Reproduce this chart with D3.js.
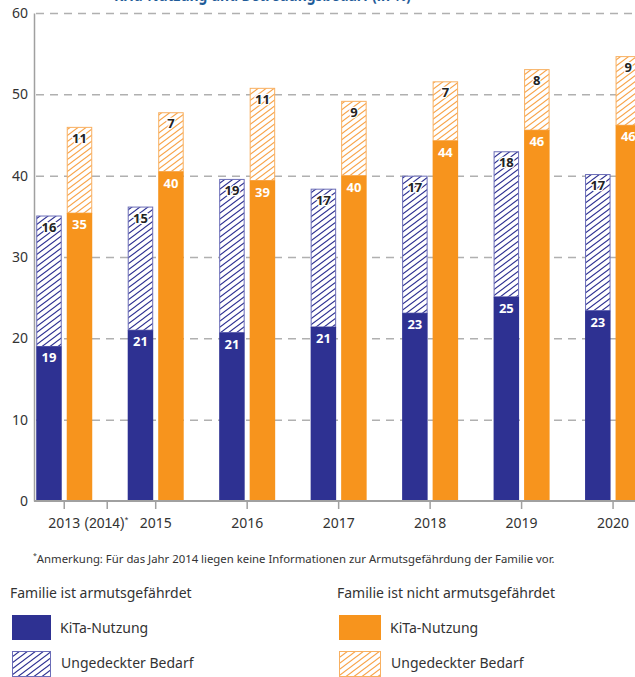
<!DOCTYPE html>
<html>
<head>
<meta charset="utf-8">
<script src="https://cdn.jsdelivr.net/npm/d3@7"></script>
<style>
  html, body { margin: 0; padding: 0; background: #fff; }
  svg { display: block; font-family: "Noto Sans", "Open Sans", sans-serif; }
</style>
</head>
<body>
<svg id="chart" width="635" height="677"></svg>
<script>
// ---- data ----
const years = ["2013", "2015", "2016", "2017", "2018", "2019", "2020"];
// Familie ist armutsgefährdet
const armKita = [19.0, 21.0, 20.7, 21.4, 23.1, 25.1, 23.4];
const armBedarf = [16.1, 15.2, 18.9, 17.0, 16.9, 17.9, 16.8];
const armKitaLabels = [19, 21, 21, 21, 23, 25, 23];
const armBedarfLabels = [16, 15, 19, 17, 17, 18, 17];
// Familie ist nicht armutsgefährdet
const nichtKita = [35.4, 40.5, 39.4, 40.0, 44.3, 45.6, 46.2];
const nichtBedarf = [10.6, 7.3, 11.4, 9.2, 7.3, 7.5, 8.5];
const nichtKitaLabels = [35, 40, 39, 40, 44, 46, 46];
const nichtBedarfLabels = [11, 7, 11, 9, 7, 8, 9];
const yTicks = [0, 10, 20, 30, 40, 50, 60];
const groups = ["arm", "nicht"];

const BLUE = "#2e3192", ORANGE = "#f7941d";

const svg = d3.select("#chart");
const defs = svg.append("defs");
function hatch(id, color) {
  const p = defs.append("pattern").attr("id", id)
    .attr("patternUnits", "userSpaceOnUse").attr("width", 8).attr("height", 6);
  p.append("rect").attr("width", 8).attr("height", 6).attr("fill", "#fff");
  p.append("path").attr("d", "M0,6 L8,0 M-4,3 L4,-3 M4,9 L12,3")
    .attr("stroke", color).attr("stroke-width", 1.1).attr("fill", "none");
}
hatch("hatchBlue", BLUE);
hatch("hatchOrange", "#f8a44a");

// title (cut off at the top edge, as in the reference)
svg.append("text").attr("x", 114).attr("y", 0.5)
  .attr("textLength", 297).attr("lengthAdjust", "spacingAndGlyphs")
  .attr("font-weight", "bold").attr("font-size", 17).attr("fill", "#1f5c99")
  .text("KiTa-Nutzung und Betreuungsbedarf (in %)");

// ---- scales ----
const y = d3.scaleLinear().domain([0, 60]).range([501, 13]);
const x0 = d3.scaleBand().domain(years).range([18.5, 658.8]);
const x1 = d3.scaleBand().domain(groups).range([0, 56]).paddingInner(0.164);
const cx = yr => x0(yr) + x0.bandwidth() / 2;
const bx = (yr, g) => cx(yr) - 28 + x1(g);

// ---- gridlines ----
svg.append("g").attr("transform", "translate(36,0)")
  .call(d3.axisLeft(y).tickValues(yTicks.slice(1)).tickSize(-600).tickFormat(""))
  .call(g => g.select(".domain").remove())
  .call(g => g.selectAll("line").attr("stroke", "#b0b0b0").attr("stroke-width", 1.5)
    .attr("stroke-dasharray", "8,6"));

// ---- y axis ----
svg.append("g").attr("transform", "translate(34,0)")
  .call(d3.axisLeft(y).tickValues(yTicks).tickSize(0).tickPadding(6))
  .call(g => g.select(".domain").attr("stroke", "#a0a0a0").attr("stroke-width", 1.5))
  .call(g => g.selectAll("text").attr("font-size", 14).attr("fill", "#333")
    .attr("font-family", "'Noto Sans', sans-serif"));

// ---- bars ----
const data = years.map((yr, i) => ({
  yr,
  arm: { kita: armKita[i], bedarf: armBedarf[i], kl: armKitaLabels[i], bl: armBedarfLabels[i] },
  nicht: { kita: nichtKita[i], bedarf: nichtBedarf[i], kl: nichtKitaLabels[i], bl: nichtBedarfLabels[i] }
}));

const bars = svg.append("g");
data.forEach(d => {
  groups.forEach(g => {
    const v = d[g];
    const col = g === "arm" ? BLUE : ORANGE;
    const xx = bx(d.yr, g), w = x1.bandwidth();
    // hatched (ungedeckter Bedarf)
    bars.append("rect")
      .attr("x", xx + 0.5).attr("width", w - 1)
      .attr("y", y(v.kita + v.bedarf) + 0.5)
      .attr("height", y(v.kita) - y(v.kita + v.bedarf) - 0.5)
      .attr("fill", g === "arm" ? "url(#hatchBlue)" : "url(#hatchOrange)")
      .attr("stroke", g === "arm" ? "#6b6db8" : "#f8b061").attr("stroke-width", 1);
    // solid (KiTa-Nutzung)
    bars.append("rect")
      .attr("x", xx).attr("width", w)
      .attr("y", y(v.kita)).attr("height", y(0) - y(v.kita))
      .attr("fill", col);
    // labels
    bars.append("text").attr("x", xx + w / 2).attr("y", y(v.kita) + 16)
      .attr("text-anchor", "middle").attr("font-weight", "bold").attr("font-size", 13)
      .attr("fill", "#fff").text(v.kl);
    bars.append("text").attr("x", xx + w / 2).attr("y", y(v.kita + v.bedarf) + 16)
      .attr("text-anchor", "middle").attr("font-weight", "bold").attr("font-size", 13)
      .attr("fill", "#222").attr("stroke", "#fff").attr("stroke-width", 2.5)
      .attr("paint-order", "stroke").attr("stroke-linejoin", "round").text(v.bl);
  });
});

// ---- x axis ----
const xAxis = svg.append("g").attr("transform", "translate(0,501)")
  .call(d3.axisBottom(x0).tickSize(8).tickSizeOuter(0).tickPadding(8));
xAxis.select(".domain").attr("d", "M34,0H635").attr("stroke", "#a0a0a0").attr("stroke-width", 2);
xAxis.selectAll(".tick line").attr("stroke", "#a0a0a0").attr("stroke-width", 1.5);
xAxis.selectAll(".tick text").attr("font-size", 14).attr("fill", "#333")
  .attr("font-family", "'Noto Sans', sans-serif").attr("y", 17);
// 2014 tick (no data)
const x2014 = cx("2013") + x0.step() * 0.47;
xAxis.append("line").attr("x1", x2014).attr("x2", x2014).attr("y1", 0).attr("y2", 8)
  .attr("stroke", "#a0a0a0").attr("stroke-width", 1.5);
const t14 = xAxis.append("text").attr("x", x2014 - 23).attr("y", 17).attr("dy", "0.71em")
  .attr("text-anchor", "start").attr("font-size", 14).attr("fill", "#333");
t14.append("tspan").text("(2014)");
t14.append("tspan").attr("font-size", 9).attr("dy", "-0.5em").text("*");

// ---- footnote ----
const fn = svg.append("text").attr("x", 33).attr("y", 561).attr("font-size", 11.35).attr("fill", "#333");
fn.append("tspan").attr("font-size", 7).attr("dy", "-0.45em").text("*");
fn.append("tspan").attr("dy", "0.45em").text("Anmerkung: Für das Jahr 2014 liegen keine Informationen zur Armutsgefährdung der Familie vor.");

// ---- legend ----
const leg = svg.append("g").attr("font-size", 14).attr("fill", "#333");
const legendCols = [
  { x: 11, title: "Familie ist armutsgefährdet", col: BLUE, pat: "url(#hatchBlue)", stroke: "#6b6db8", tx: 60 },
  { x: 338, title: "Familie ist nicht armutsgefährdet", col: ORANGE, pat: "url(#hatchOrange)", stroke: "#f8b061", tx: 390 }
];
legendCols.forEach(c => {
  leg.append("text").attr("x", c.x - 1).attr("y", 598).text(c.title);
  leg.append("rect").attr("x", c.x + 1).attr("y", 615).attr("width", c.tx - c.x - 10).attr("height", 25).attr("fill", c.col);
  leg.append("text").attr("x", c.tx).attr("y", 633).text("KiTa-Nutzung");
  leg.append("rect").attr("x", c.x + 1.5).attr("y", 651.5).attr("width", c.tx - c.x - 11).attr("height", 25)
    .attr("fill", c.pat).attr("stroke", c.stroke);
  leg.append("text").attr("x", c.tx + 1).attr("y", 668).text("Ungedeckter Bedarf");
});
</script>
</body>
</html>
